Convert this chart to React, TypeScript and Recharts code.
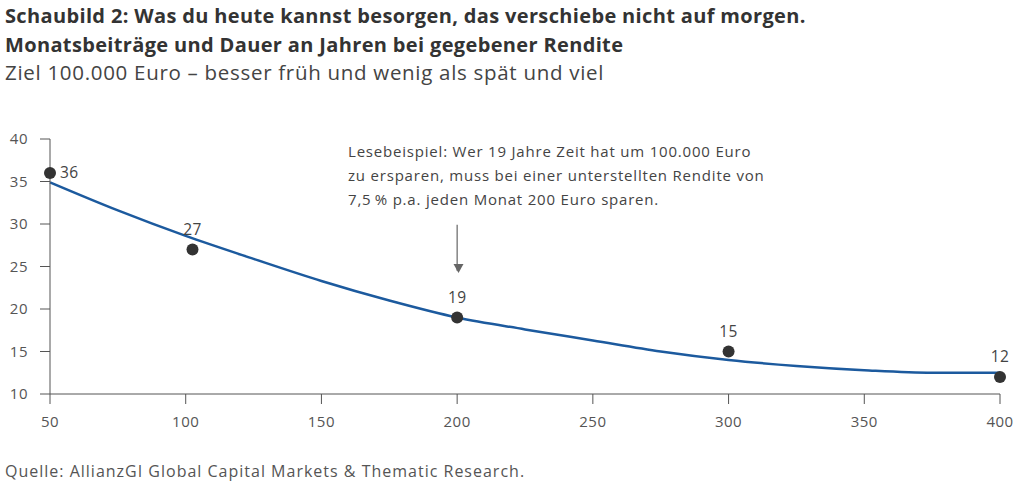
import { ComposedChart, Line, Scatter, XAxis, YAxis, LabelList, ReferenceLine } from 'recharts';

// monthly contribution (EUR) vs years needed to reach 100.000 EUR
const pointAmounts = [50, 102.5, 200, 300, 400];
const pointYears = [36, 27, 19, 15, 12];

// smoothed trend line
const trendAmounts = [50, 75, 100, 125, 150, 175, 200, 225, 250, 275, 300, 325, 350, 375, 400];
const trendYears = [34.9, 31.6, 28.6, 25.9, 23.3, 21.0, 19.0, 17.6, 16.3, 15.0, 14.0, 13.3, 12.8, 12.5, 12.5];

const xTicks = [50, 100, 150, 200, 250, 300, 350, 400];
const yTicks = [10, 15, 20, 25, 30, 35, 40];

const points = pointAmounts.map((x, i) => ({ x, years: pointYears[i] }));
const trend = trendAmounts.map((x, i) => ({ x, trend: trendYears[i] }));

const FONT = '"Open Sans", sans-serif';
const AXIS = '#555';

const renderPointLabel = (props: any) => {
  const { viewBox, value, index } = props;
  const cx = viewBox.x + viewBox.width / 2;
  const cy = viewBox.y + viewBox.height / 2;
  const first = index === 0;
  return (
    <text
      x={first ? cx + 10 : cx}
      y={first ? cy + 5 : cy - 15}
      textAnchor={first ? 'start' : 'middle'}
      fontSize={15.5}
      fontFamily={FONT}
      letterSpacing={0.4}
      fill="#444"
    >
      {value}
    </text>
  );
};

export default function App() {
  return (
    <div style={{ position: 'absolute', left: 0, top: 0, width: 1024, height: 485, background: '#fff', fontFamily: FONT, color: '#333' }}>
      <div style={{ position: 'absolute', left: 5, top: 1, fontSize: 20, fontWeight: 700, lineHeight: '29px', letterSpacing: 0.35, color: '#333' }}>
        Schaubild 2: Was du heute kannst besorgen, das verschiebe nicht auf morgen.
        <br />
        Monatsbeiträge und Dauer an Jahren bei gegebener Rendite
      </div>
      <div style={{ position: 'absolute', left: 5, top: 58, fontSize: 20.5, lineHeight: '28px', letterSpacing: 0.7, color: '#444' }}>
        Ziel 100.000 Euro – besser früh und wenig als spät und viel
      </div>

      <ComposedChart
        width={1024}
        height={485}
        margin={{ top: 139, right: 24, bottom: 0, left: 0 }}
        style={{ position: 'absolute', left: 0, top: 0 }}
      >
        <XAxis
          dataKey="x"
          type="number"
          domain={[50, 400]}
          ticks={xTicks}
          allowDuplicatedCategory={false}
          height={91}
          tickSize={10}
          tickMargin={12}
          stroke={AXIS}
          tick={{ fill: AXIS, fontSize: 15, fontFamily: FONT, letterSpacing: 0.5 }}
        />
        <YAxis
          type="number"
          domain={[10, 40]}
          ticks={yTicks}
          width={50}
          tickSize={10}
          tickMargin={12}
          stroke={AXIS}
          tick={{ fill: AXIS, fontSize: 15, fontFamily: FONT, letterSpacing: 0.5 }}
        />
        <ReferenceLine
          segment={[{ x: 200, y: 29.9 }, { x: 200, y: 24.5 }]}
          stroke="#666"
          strokeWidth={1.2}
        />
        <Line
          data={trend}
          dataKey="trend"
          type="monotone"
          stroke="#1c5a9e"
          strokeWidth={2.5}
          dot={false}
          activeDot={false}
          isAnimationActive={false}
        />
        <Scatter data={points} dataKey="years" fill="#333" isAnimationActive={false} shape={(p: any) => <circle cx={p.cx} cy={p.cy} r={6} fill="#333" />}>
          <LabelList dataKey="years" content={renderPointLabel} />
        </Scatter>
      </ComposedChart>

      <svg width={1024} height={485} style={{ position: 'absolute', left: 0, top: 0, pointerEvents: 'none' }}>
        <path d="M453.5,264 L463.5,264 L458.5,273 z" fill="#666" />
      </svg>

      <div style={{ position: 'absolute', left: 348, top: 139, fontSize: 15, lineHeight: '24px', letterSpacing: 0.8, color: '#444' }}>
        Lesebeispiel: Wer 19 Jahre Zeit hat um 100.000 Euro
        <br />
        zu ersparen, muss bei einer unterstellten Rendite von
        <br />
        7,5{'\u2009'}% p.a. jeden Monat 200 Euro sparen.
      </div>

      <div style={{ position: 'absolute', left: 5, top: 460, fontSize: 16, letterSpacing: 1.0, color: '#555' }}>
        Quelle: AllianzGI Global Capital Markets &amp; Thematic Research.
      </div>
    </div>
  );
}
